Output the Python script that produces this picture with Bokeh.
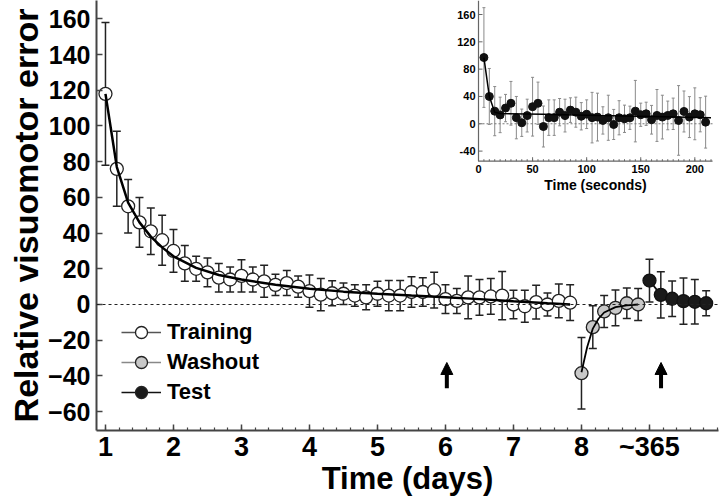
from bokeh.plotting import figure
from bokeh.models import (ColumnDataSource, Whisker, TeeHead, Arrow, NormalHead, Legend,
                          LegendItem, FixedTicker, Span, Range1d)
from bokeh.core.properties import value
from bokeh.embed import file_html
from bokeh.resources import INLINE
import numpy as np

FONT = "Liberation Sans"

# ---------------- main data ----------------
train_day = [1 + i / 6 for i in range(42)]
train_err_mean = [118, 76, 55, 46, 41, 36, 30, 23, 20, 18, 15, 14, 16, 14, 13, 11, 12, 10,
                  7.5, 5.5, 6.3, 6, 5, 4, 6, 5, 5, 7, 7, 8, 3, 2, 4, 4, 4.5, 5, 0, -1, 1.3, 0, 2, 1]
train_sem = [40, 21, 15, 14, 13, 14, 12, 10, 7, 8, 8, 7, 9, 7, 9, 6, 7, 6,
             9, 9, 7, 6, 6, 7, 7, 8.5, 8.5, 8.5, 8, 10, 8, 7, 12, 10, 10, 13.5, 8, 9, 9.5, 6.5, 9.5, 10]

wash_day = [8 + i / 6 for i in range(6)]
wash_err_mean = [-38.5, -12.7, -3.9, -1.9, 0.7, 0]
wash_sem = [20, 12, 9, 10, 8.5, 9]

test_day = [9 + i / 6 for i in range(6)]
test_err_mean = [13.4, 5.4, 3.2, 1.9, 1.5, 0.7]
test_sem = [12, 13, 10, 13, 12.5, 7]

train_fit_day = [1, 1.167, 1.333, 1.5, 1.667, 1.833, 2.0, 2.333, 2.667, 3.0, 3.5, 4.0, 4.5,
                 5.0, 5.5, 6.0, 6.5, 7.0, 7.5, 7.833]
train_fit = [118, 77, 57, 46, 38, 32, 27, 20.5, 16.5, 14, 11, 8.8, 7.2, 6, 5, 4.1, 3, 1.8, 0.7, 0]

wash_fit_day = [8, 8.083, 8.167, 8.25, 8.333, 8.5, 8.667, 8.833]
wash_fit = [-38, -24, -13.5, -8, -4.5, -1.5, -0.5, 0]

day_ticks = [1, 2, 3, 4, 5, 6, 7, 8, 9]
day_labels = ["1", "2", "3", "4", "5", "6", "7", "8", "~365"]
err_ticks = [-60, -40, -20, 0, 20, 40, 60, 80, 100, 120, 140, 160]

arrow_day = [6.02, 9.17]
arrow_tail = [-47, -47]
arrow_tip = [-32.5, -32.5]

# ---------------- inset data ----------------
sec = [5 * (i + 1) for i in range(42)]
sec_err = [97, 40, 18.5, 13, 23, 30, 9, 1.5, 12, 25, 30, -4, 9, 9, 17, 12, 20, 17, 11, 14,
           9, 9.8, 4.9, 8.8, -1, 8.8, 7.3, 8.8, 18.5, 13.2, 14.6, 5.9, 12.2, 9.8, 12.2, 14.6,
           4.9, 18, 9.8, 14.6, 13.2, 2.4]
sec_sem = [73, 41, 36, 26, 20, 32, 31, 20, 24, 43, 31, 30, 26, 26, 20, 24, 18, 22, 20, 21,
           37, 35, 20, 33, 22, 25, 20, 17, 45, 17, 17, 21, 38, 32, 21, 23, 51, 30, 30, 38, 25, 38]
sec_fit_x = [5, 10, 15, 20, 60, 110, 160, 215]
sec_fit = [97, 40, 17, 15, 14, 12, 10.5, 9]
sec_ticks = [0, 50, 100, 150, 200]
sec_minor = list(range(0, 216, 5))
sec_yticks = [-40, 0, 40, 80, 120, 160]

# inset placement inside the main frame (own ranges so the inset sits top-right)
FRAME_W, FRAME_H = 622, 430
INS_X = (0, 216.4)
INS_Y = (-54.8, 180.5)
INS_XRANGE = (-353.2, 221.9)
INS_YRANGE = (-449.1, 180.5)
IX_PX = FRAME_W / (INS_XRANGE[1] - INS_XRANGE[0])   # px per inset x unit
IY_PX = FRAME_H / (INS_YRANGE[1] - INS_YRANGE[0])   # px per inset y unit

# ---------------- main figure ----------------
p = figure(width=720, height=500, x_range=(0.868, 10.015), y_range=(-70.6, 170.3),
           output_backend="svg", toolbar_location=None,
           min_border_left=96, min_border_right=2, min_border_top=0, min_border_bottom=70)
p.outline_line_color = None
p.grid.visible = False

for ax in (p.xaxis[0], p.yaxis[0]):
    ax.axis_line_color = "#444444"
    ax.axis_line_width = 2
    ax.major_tick_in = 6
    ax.major_tick_out = 0
    ax.minor_tick_in = 3
    ax.minor_tick_out = 0
    ax.major_tick_line_color = "#444444"
    ax.minor_tick_line_color = "#444444"
    ax.major_tick_line_width = 1.5
    ax.minor_tick_line_width = 1.2
    ax.major_label_text_font = FONT
    ax.major_label_text_font_style = "bold"
    ax.major_label_text_color = "black"
    ax.axis_label_text_font = FONT
    ax.axis_label_text_font_style = "bold"
    ax.axis_label_text_color = "black"

p.xaxis.ticker = FixedTicker(ticks=day_ticks,
                             minor_ticks=list(np.round(np.arange(0.8, 10.01, 0.2), 2)))
p.xaxis.major_label_overrides = {t: l for t, l in zip(day_ticks, day_labels)}
p.xaxis.major_label_text_font_size = "27px"
p.xaxis.major_label_standoff = 1
p.xaxis.axis_label = "Time (days)"
p.xaxis.axis_label_text_font_size = "31px"
p.xaxis.axis_label_standoff = -4

p.yaxis.ticker = FixedTicker(ticks=err_ticks, minor_ticks=[])
p.yaxis.major_label_text_font_size = "25px"
p.yaxis.major_label_standoff = 6
p.yaxis.axis_label = "Relative visuomotor error"
p.yaxis.axis_label_text_font_size = "34px"
p.yaxis.axis_label_standoff = 0

p.add_layout(Span(location=0, dimension="width", line_color="#222222", line_dash="3 3",
                  line_width=1.2))

def add_series(xs, ms, es):
    src = ColumnDataSource(dict(x=xs, y=ms,
                                lo=[m - e for m, e in zip(ms, es)],
                                hi=[m + e for m, e in zip(ms, es)]))
    p.add_layout(Whisker(source=src, base="x", upper="hi", lower="lo", dimension="height",
                         line_color="#222222", line_width=1.5,
                         upper_head=TeeHead(size=8, line_color="#222222", line_width=1.5),
                         lower_head=TeeHead(size=8, line_color="#222222", line_width=1.5)))
    return src

s_train = add_series(train_day, train_err_mean, train_sem)
s_wash = add_series(wash_day, wash_err_mean, wash_sem)
s_test = add_series(test_day, test_err_mean, test_sem)

p.line(test_day, test_err_mean, line_color="#111111", line_width=1.8)
p.scatter("x", "y", source=s_train, size=13, fill_color="white", line_color="#222222",
          line_width=1.3)
p.scatter("x", "y", source=s_wash, size=13, fill_color="#c8c8c8", line_color="#222222",
          line_width=1.3)
p.scatter("x", "y", source=s_test, size=13, fill_color="#1a1a1a", line_color="#111111",
          line_width=1.3)
p.line(train_fit_day, train_fit, line_color="black", line_width=2.5)
p.line(wash_fit_day, wash_fit, line_color="black", line_width=1.8)

for xd, yt, yh in zip(arrow_day, arrow_tail, arrow_tip):
    p.add_layout(Arrow(x_start=xd, y_start=yt, x_end=xd, y_end=yh, line_width=4,
                       line_color="black",
                       end=NormalHead(size=12, fill_color="black", line_color="black")))

# legend: placeholder renderers (single NaN point, never drawn) define the legend glyphs
nan = float("nan")
items = []
for lab, fc, lc in (("Training", "white", "#555555"), ("Washout", "#c8c8c8", "#888888"),
                    ("Test", "#1a1a1a", "#111111")):
    lr = p.line(x=[nan], y=[nan], line_color=lc, line_width=1.5)
    sr = p.scatter(x=[nan], y=[nan], size=13, fill_color=fc, line_color="#222222",
                   line_width=1.3)
    items.append(LegendItem(label=lab, renderers=[lr, sr]))
leg = Legend(items=items, location=(25, 23), glyph_width=40, glyph_height=30, label_height=30,
             spacing=0, padding=0, margin=0, label_standoff=6, border_line_color=None,
             background_fill_alpha=0, label_text_font=FONT, label_text_font_style="bold",
             label_text_font_size="22px", label_text_color="black")
p.add_layout(leg)

# ---------------- inset (own ranges inside the main frame) ----------------
p.extra_x_ranges = {"ix": Range1d(*INS_XRANGE)}
p.extra_y_ranges = {"iy": Range1d(*INS_YRANGE)}
R = dict(x_range_name="ix", y_range_name="iy")

p.segment(x0=[INS_X[0], INS_X[0]], y0=[INS_Y[0], INS_Y[0]], x1=[INS_X[0], INS_X[1]],
          y1=[INS_Y[1], INS_Y[0]], line_color="#666666", line_width=1.2, **R)
p.segment(x0=[INS_X[0]] * len(sec_yticks), y0=sec_yticks,
          x1=[INS_X[0] + 4 / IX_PX] * len(sec_yticks), y1=sec_yticks,
          line_color="#666666", line_width=1, **R)
p.segment(x0=sec_minor, y0=[INS_Y[0]] * len(sec_minor), x1=sec_minor,
          y1=[INS_Y[0] + 2 / IY_PX] * len(sec_minor), line_color="#666666", line_width=1, **R)
p.segment(x0=sec_ticks, y0=[INS_Y[0]] * len(sec_ticks), x1=sec_ticks,
          y1=[INS_Y[0] + 4 / IY_PX] * len(sec_ticks), line_color="#666666", line_width=1, **R)
p.text(x=[INS_X[0]] * len(sec_yticks), y=sec_yticks, text=[str(t) for t in sec_yticks],
       x_offset=-3, text_align="right", text_baseline="middle", text_font=value(FONT),
       text_font_style="bold", text_font_size="11px", text_color="black", **R)
p.text(x=sec_ticks, y=[INS_Y[0]] * len(sec_ticks), text=[str(t) for t in sec_ticks],
       y_offset=4, text_align="center", text_baseline="top", text_font=value(FONT),
       text_font_style="bold", text_font_size="11px", text_color="black", **R)
p.text(x=[(INS_X[0] + INS_X[1]) / 2], y=[INS_Y[0]], text=["Time (seconds)"],
       y_offset=16, text_align="center", text_baseline="top", text_font=value(FONT),
       text_font_style="bold", text_font_size="14px", text_color="black", **R)
p.segment(x0=[INS_X[0]], y0=[0], x1=[INS_X[1]], y1=[0], line_color="#777777",
          line_dash="2 2", line_width=1, **R)

isrc = ColumnDataSource(dict(x=sec, y=sec_err,
                             lo=[m - e for m, e in zip(sec_err, sec_sem)],
                             hi=[m + e for m, e in zip(sec_err, sec_sem)]))
p.add_layout(Whisker(source=isrc, base="x", upper="hi", lower="lo", dimension="height",
                     line_color="#8a8a8a", line_width=1,
                     upper_head=TeeHead(size=3, line_color="#8a8a8a", line_width=1),
                     lower_head=TeeHead(size=3, line_color="#8a8a8a", line_width=1), **R))
p.scatter("x", "y", source=isrc, size=8, fill_color="#111111", line_color="#111111", **R)
p.line(sec_fit_x, sec_fit, line_color="black", line_width=1.5, **R)

open("out.html", "w").write(file_html(p, INLINE))
